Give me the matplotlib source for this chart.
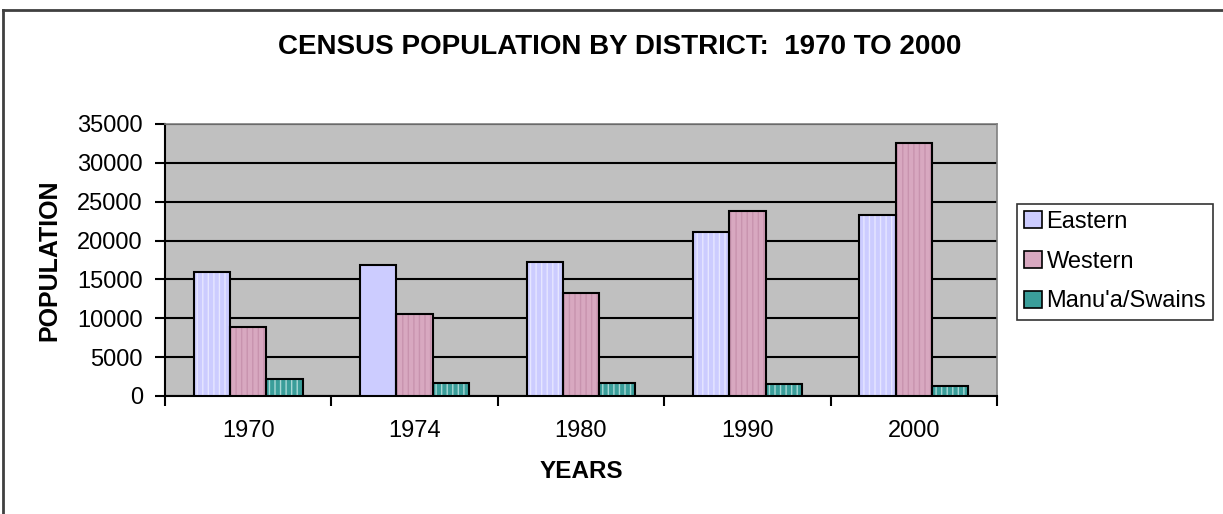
import matplotlib.pyplot as plt
import numpy as np
from matplotlib.lines import Line2D

plt.rcParams['font.family'] = ['Liberation Sans', 'DejaVu Sans']

years = ['1970', '1974', '1980', '1990', '2000']
eastern = [15900, 16800, 17250, 21050, 23300]
western = [8900, 10500, 13230, 23800, 32550]
manua = [2200, 1720, 1720, 1500, 1240]
series_names = ['Eastern', 'Western', "Manu'a/Swains"]

# fill colour, stripe colour
colors = [('#CCCCFF', '#E6E6FF'), ('#D8A8C0', '#C893AE'), ('#3A9E9A', '#A8D8D5')]
# 1974 eastern bar has no stripes in the original
hatches = [['|||', '', '|||', '|||', '|||'],
           ['|||'] * 5,
           ['|||'] * 5]

fig = plt.figure(figsize=(12.23, 5.14), dpi=100)
ax = fig.add_axes([165 / 1223, 1 - 396 / 514, 832 / 1223, 272 / 514])
ax.set_facecolor('#C0C0C0')

x = np.arange(len(years))
w = 0.218
for i, vals in enumerate([eastern, western, manua]):
    pos = x + (i - 1) * w
    fc, sc = colors[i]
    for j in range(len(years)):
        plt.rcParams['hatch.color'] = sc
        ax.bar(pos[j], vals[j], w, color=fc, edgecolor=sc, linewidth=0,
               hatch=hatches[i][j], zorder=3)
    ax.bar(pos, vals, w, fill=False, edgecolor='black', linewidth=1.5, zorder=4)

ax.set_xlim(-0.5, 4.5)
ax.set_ylim(0, 35000)
ax.set_yticks(range(0, 35001, 5000))
ax.yaxis.grid(True, color='black', linewidth=1.5, zorder=1)
ax.set_axisbelow(True)

ax.set_xticks(x)
ax.set_xticklabels(years, fontsize=17)
ax.tick_params(axis='x', length=0, pad=17)
ax.set_xticks(np.arange(-0.5, 5, 1), minor=True)
ax.tick_params(axis='x', which='minor', length=7, width=1.5, direction='out')
ax.tick_params(axis='y', labelsize=17, length=7, width=1.5, direction='out', pad=9)

for s in ['top', 'right']:
    ax.spines[s].set_color('#808080')
    ax.spines[s].set_linewidth(1.2)
for s in ['left', 'bottom']:
    ax.spines[s].set_color('black')
    ax.spines[s].set_linewidth(1.5)

ax.set_ylabel('POPULATION', fontsize=18, fontweight='bold', labelpad=11)
ax.set_xlabel('YEARS', fontsize=17.5, fontweight='bold', labelpad=13)
fig.text(620 / 1223, 1 - 47 / 514, 'CENSUS POPULATION BY DISTRICT:  1970 TO 2000',
         ha='center', va='center', fontsize=20, fontweight='bold')

handles = [plt.Rectangle((0, 0), 1, 1, facecolor=c[0], edgecolor='black', linewidth=1.2)
           for c in colors]
leg = fig.legend(handles, series_names, loc='upper left',
                 bbox_to_anchor=(1017 / 1223, 1 - 204 / 514), fontsize=17,
                 frameon=True, fancybox=False, edgecolor='black',
                 handlelength=0.75, handleheight=0.75, handletextpad=0.2,
                 borderpad=0.3, labelspacing=0.75, borderaxespad=0)
leg.get_frame().set_linewidth(1.2)

# outer chart frame
fig.add_artist(Line2D([3 / 1223, 1], [1 - 10 / 514] * 2, color='#404040', linewidth=2))
fig.add_artist(Line2D([3 / 1223] * 2, [0, 1 - 10 / 514], color='#404040', linewidth=2))

fig.savefig('out.png', dpi=100)
